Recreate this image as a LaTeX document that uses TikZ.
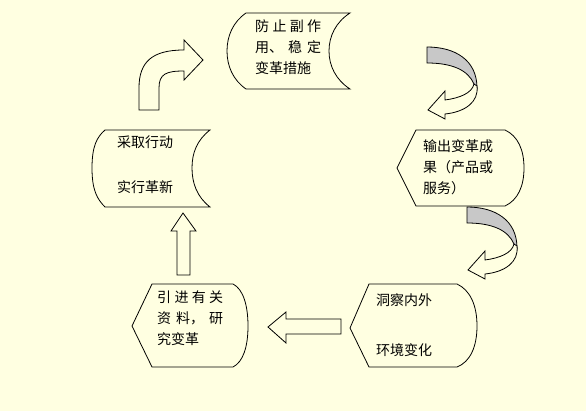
\documentclass[tikz,border=0pt]{standalone}
\usepackage{fontspec}
\newfontfamily\cjk{Noto Sans CJK SC}
\usetikzlibrary{calc}

\XeTeXlinebreaklocale "zh"
\XeTeXlinebreakskip=0pt plus 8pt

\definecolor{paper}{RGB}{255,255,225}
\definecolor{band}{RGB}{200,200,200}

\tikzset{
  box/.style={black,line width=0.8pt,fill=paper},
  txt/.style={anchor=north west,inner sep=0pt,font=\cjk\fontsize{14}{21}\selectfont},
  spread/.style={txt,text width=66pt,align=justify},
}

\begin{document}
\begin{tikzpicture}[x=1pt,y=-1pt]

\fill[paper] (0,0) rectangle (586,411);

% boxes
\draw[box] (246,13) -- (350,13) .. controls (336,22) and (329,36) .. (329,51) .. controls (329,66) and (336,80) .. (350,89) -- (246,89) .. controls (233,80) and (227,66) .. (227,51) .. controls (227,36) and (233,22) .. (246,13) -- cycle;
\draw[box] (105,130) -- (210,130) .. controls (197,140) and (192,153) .. (192,168) .. controls (192,183) and (197,197) .. (210,207) -- (105,207) .. controls (97,199) and (92,190) .. (92,168) .. controls (92,146) and (97,137) .. (105,130) -- cycle;
\draw[box] (132,326) -- (152,284) -- (233,284) .. controls (243,289) and (248,305) .. (248,326) .. controls (248,347) and (243,362) .. (233,367) -- (152,367) -- cycle;
\draw[box] (350,328) -- (369,284) -- (457,284) .. controls (470,290) and (477,305) .. (477,326) .. controls (477,347) and (470,362) .. (457,367) -- (369,367) -- cycle;
\draw[box] (397,168) -- (416,130) -- (505,130) .. controls (518,136) and (524,150) .. (524,168) .. controls (524,186) and (518,200) .. (505,206) -- (416,206) -- cycle;

% block arrows
\draw[box] (139,110) -- (139,88) .. controls (139,62) and (152,50) .. (184,50) -- (184,40) -- (203,60) -- (184,80) -- (184,71) .. controls (166,71) and (159,74) .. (159,88) -- (159,110) -- cycle;
\draw[box] (177,275) -- (177,231) -- (171,231) -- (183,213) -- (196,231) -- (190,231) -- (190,275) -- cycle;
\draw[box] (341,319) -- (286,319) -- (286,312) -- (268,327) -- (286,343) -- (286,334) -- (341,334) -- cycle;

\foreach \dx/\dy in {0/0,40/160}{
  \begin{scope}[shift={(\dx,\dy)}]
    \draw[box,fill=band] (427,47) .. controls (455,47) and (477,60) .. (477,88) -- (474,84) .. controls (468,70) and (452,63) .. (427,63) -- cycle;
    \draw[box] (477,86) .. controls (479,102) and (465,112) .. (445,114) -- (445,119) -- (428,110) -- (445,91) -- (445,100) .. controls (460,98) and (472,93) .. (474,84) -- cycle;
  \end{scope}
}

% texts
\node[spread] (guard) at (255,20) {防止副作用、稳定变革措施};
\node[txt,align=left] (act) at (117,136) {采取行动\\[24pt]实行革新};
\node[spread] (study) at (157,291) {引进有关资料，研究变革};
\node[txt,align=left] (scan) at (376,293) {洞察内外\\[29pt]环境变化};
\node[txt,align=left] (output) at (423,139) {输出变革成\\果（产品或\\服务）};

\end{tikzpicture}
\end{document}
